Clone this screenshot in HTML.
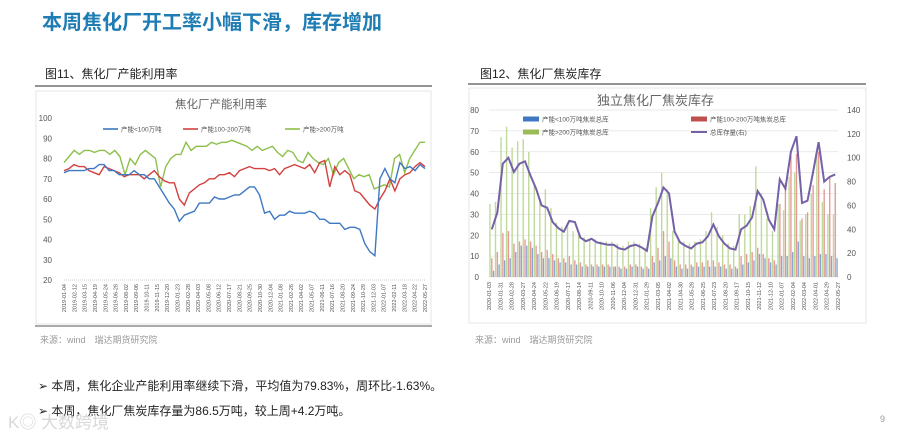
<!DOCTYPE html>
<html><head><meta charset="utf-8"><style>
body{margin:0;background:#fff;width:900px;height:437px;overflow:hidden;font-family:"Liberation Sans","Noto Sans CJK SC",sans-serif}
svg text{font-family:"Liberation Sans","Noto Sans CJK SC",sans-serif}
</style></head><body>
<svg id="s" width="900" height="437" viewBox="0 0 900 437" xmlns="http://www.w3.org/2000/svg">
<text x="42" y="29" font-size="20" font-weight="bold" fill="#1f7db4">本周焦化厂开工率小幅下滑，库存增加</text>
<!-- left panel -->
<text x="45" y="78" font-size="12" fill="#222">图11、焦化厂产能利用率</text>
<line x1="35" y1="86" x2="432" y2="86" stroke="#555" stroke-width="1.2"/>
<rect x="36" y="91" width="395" height="233" fill="#fff" stroke="#e6e6e6"/>
<line x1="35" y1="326" x2="432" y2="326" stroke="#555" stroke-width="1"/>
<text x="175" y="108" font-size="11.5" fill="#666">焦化厂产能利用率</text>
<g id="c1"></g>
<text x="40" y="343" font-size="9" fill="#999">来源：wind　瑞达期货研究院</text>
<!-- right panel -->
<text x="480" y="78" font-size="12" fill="#222">图12、焦化厂焦炭库存</text>
<line x1="468" y1="84" x2="866" y2="84" stroke="#555" stroke-width="1.2"/>
<rect x="469" y="88" width="397" height="235" fill="#fff" stroke="#e6e6e6"/>
<text x="597" y="105" font-size="13" fill="#666">独立焦化厂焦炭库存</text>
<g id="c2"></g>
<text x="475" y="343" font-size="9" fill="#999">来源：wind　瑞达期货研究院</text>
<!-- bullets -->
<text x="38" y="390" font-size="12" fill="#222">➢  本周，焦化企业产能利用率继续下滑，平均值为79.83%，周环比-1.63%。</text>
<text x="38" y="415" font-size="12" fill="#222">➢  本周，焦化厂焦炭库存量为86.5万吨，较上周+4.2万吨。</text>
<text x="8" y="428" font-size="17" fill="#d8d8d8">K◎ 大数跨境</text>
<text x="880" y="422" font-size="9" fill="#999">9</text>
</svg>
<script>
// ---- chart 1 data ----
const c1Labels=["2019-01-04","2019-02-12","2019-03-15","2019-04-19","2019-05-24","2019-06-28","2019-08-02","2019-09-06","2019-10-11","2019-11-15","2019-12-20","2020-01-23","2020-02-28","2020-04-03","2020-05-08","2020-06-12","2020-07-17","2020-08-21","2020-09-25","2020-10-30","2020-12-04","2021-01-08","2021-02-26","2021-04-02","2021-05-07","2021-06-11","2021-07-16","2021-08-20","2021-09-24","2021-10-29","2021-12-03","2022-01-07","2022-02-11","2022-03-18","2022-04-22","2022-05-27"];
const c1Ticks=[20,30,40,50,60,70,80,90,100];
const c1Blue=[73,74,74,74,74,75,75,77,77,74,74,72,72,72,74,72,72,70,70,66,62,58,55,49,52,53,54,58,58,58,61,60,60,61,62,62,64,66,66,62,53,54,50,52,52,54,53,53,53,54,53,50,50,48,48,48,45,46,46,45,38,34,32,70,75,70,68,78,75,76,74,77,75];
const c1Red=[74,75,77,76,76,74,73,72,76,75,74,73,71,72,72,72,70,72,74,71,69,68,68,60,57,63,65,67,68,70,70,72,72,73,71,74,75,76,75,75,75,74,75,72,75,76,77,76,75,77,73,78,79,66,76,72,74,72,64,63,60,57,55,60,64,70,64,70,72,73,76,78,76];
const c1Green=[78,81,84,82,84,84,83,84,84,82,84,81,72,80,77,82,84,82,80,66,76,80,82,82,88,84,86,86,86,88,87,88,88,89,88,87,86,84,86,84,85,86,83,81,84,83,79,78,83,80,78,77,80,72,78,80,75,70,72,71,72,65,66,67,66,80,82,73,80,84,88,88];
// ---- chart 2 data ----
const c2Labels=["2020-01-03","2020-01-31","2020-02-28","2020-03-27","2020-04-24","2020-05-22","2020-06-19","2020-07-17","2020-08-14","2020-09-11","2020-10-10","2020-11-06","2020-12-04","2020-12-31","2021-01-29","2021-03-05","2021-04-02","2021-04-30","2021-05-28","2021-06-25","2021-07-23","2021-08-20","2021-09-17","2021-10-15","2021-11-12","2021-12-10","2022-01-07","2022-02-04","2022-03-04","2022-04-01","2022-04-29","2022-05-27"];
const c2LeftTicks=[0,10,20,30,40,50,60,70,80];
const c2RightTicks=[0,20,40,60,80,100,120,140];
const c2Total=[40,54,95,100,88,95,97,85,74,60,58,46,41,38,47,46,33,30,32,29,28,27,27,24,23,26,27,25,22,51,62,75,70,38,29,26,24,28,29,34,44,34,28,24,23,40,43,50,72,65,48,40,82,74,105,118,62,64,88,113,80,84,86];
const c2Green=[35,36,67,72,62,65,66,60,45,37,42,33,26,24,26,22,20,19,18,18,17,17,17,16,15,17,17,16,14,33,43,50,42,22,19,17,16,17,18,22,31,24,20,16,15,30,30,34,53,40,28,22,35,32,48,50,27,30,40,60,36,30,30];
const c2Red=[9,12,21,22,16,17,18,17,15,12,13,11,9,9,10,8,7,6,6,6,6,6,5,5,5,6,6,5,5,10,14,22,17,8,6,6,6,7,7,8,8,7,6,6,5,10,11,12,14,11,9,8,35,45,58,59,28,31,44,60,42,48,45];
const c2Blue=[3,6,8,9,12,15,15,14,11,9,9,8,7,7,6,6,5,5,5,5,5,5,5,4,4,5,5,4,4,7,8,10,9,5,4,4,5,5,5,5,5,5,4,4,4,6,7,8,11,9,7,6,10,10,12,17,10,9,10,11,11,10,9];

const NS="http://www.w3.org/2000/svg";
function mk(tag,attrs,parent){const e=document.createElementNS(NS,tag);for(const k in attrs)e.setAttribute(k,attrs[k]);parent.appendChild(e);return e;}

// chart 1
(function(){
const g=document.getElementById('c1');
const X0=64,X1=425,Y0=280,Y1=118;
const y=v=>Y0-(v-20)/80*(Y0-Y1);
const xi=(i,n)=>X0+i/(n-1)*(X1-X0);
c1Ticks.forEach(t=>{
  const tl=mk('text',{x:52,y:y(t)+3,'font-size':8,fill:'#555','text-anchor':'end'},g);tl.textContent=t;
  
  
});
mk('line',{x1:X0,y1:Y0,x2:X1,y2:Y0,stroke:'#ccc','stroke-dasharray':'1,1'},g);
c1Labels.forEach((l,i)=>{
  const xx=xi(i,c1Labels.length);
  const t=mk('text',{x:0,y:0,'font-size':5.5,fill:'#555','text-anchor':'end',transform:`translate(${xx+2},${Y0+4}) rotate(-90)`},g);t.textContent=l;
  
  
});
[[c1Green,'#8dc04a','series-gt200'],[c1Red,'#d2403f','series-100-200'],[c1Blue,'#3e78c2','series-lt100']].forEach(([d,c,n])=>{
  const p=d.map((v,i)=>(i?'L':'M')+xi(i,d.length).toFixed(1)+','+y(v).toFixed(1)).join('');
  const e=mk('path',{d:p,fill:'none',stroke:c,'stroke-width':1.4},g);
  
  
});
const leg=[['产能<100万吨','#3e78c2',103],['产能100-200万吨','#d2403f',183],['产能>200万吨','#8dc04a',285]];
leg.forEach(([t,c,x])=>{
  mk('line',{x1:x,y1:129,x2:x+15,y2:129,stroke:c,'stroke-width':1.6},g);
  const tt=mk('text',{x:x+18,y:131.5,'font-size':6.5,fill:'#555'},g);tt.textContent=t;
  
  
});
})();

// chart 2
(function(){
const g=document.getElementById('c2');
const X0=489,X1=838,Y0=277,Y1=110;
const yl=v=>Y0-v/80*(Y0-Y1);
const yr=v=>Y0-v/140*(Y0-Y1);
c2LeftTicks.forEach(t=>{
  mk('line',{x1:X0,y1:yl(t),x2:X1,y2:yl(t),stroke:'#e2e2e2','stroke-width':0.7},g);
  const tl=mk('text',{x:479,y:yl(t)+3,'font-size':8,fill:'#555','text-anchor':'end'},g);tl.textContent=t;
  
  
});
c2RightTicks.forEach(t=>{
  const tl=mk('text',{x:847,y:yr(t)+3,'font-size':8,fill:'#555'},g);tl.textContent=t;
  
  
});
const n=c2Total.length;
const xi=i=>X0+(i+0.5)/n*(X1-X0);
const slot=(X1-X0)/n;
for(let i=0;i<n;i++){
  const x=xi(i);
  const b1=mk('rect',{x:x-slot*0.45,y:yl(c2Green[i]),width:slot*0.25,height:Y0-yl(c2Green[i]),fill:'#bfd99a'},g);
  
  
  const b2=mk('rect',{x:x-slot*0.12,y:yl(c2Red[i]),width:slot*0.25,height:Y0-yl(c2Red[i]),fill:'#e59a96'},g);
  
  
  const b3=mk('rect',{x:x+slot*0.2,y:yl(c2Blue[i]),width:slot*0.25,height:Y0-yl(c2Blue[i]),fill:'#8aa6cf'},g);
  
  
}
const p=c2Total.map((v,i)=>(i?'L':'M')+xi(i).toFixed(1)+','+yr(v).toFixed(1)).join('');
const ln=mk('path',{d:p,fill:'none',stroke:'#7461a8','stroke-width':2},g);


const L=c2Labels.length;
c2Labels.forEach((l,i)=>{
  const xx=X0+i/(L-1)*(X1-X0);
  const t=mk('text',{x:0,y:0,'font-size':5.5,fill:'#555','text-anchor':'end',transform:`translate(${xx+2},${Y0+5}) rotate(-90)`},g);t.textContent=l;
  
  
});
const leg=[['产能<100万吨焦炭总库','#3e78c2',523,119,'rect'],['产能100-200万吨焦炭总库','#c0504d',691,119,'rect'],['产能>200万吨焦炭总库','#9bbb59',523,132,'rect'],['总库存量(右)','#7461a8',691,132,'line']];
leg.forEach(([t,c,x,yy,k])=>{
  if(k==='rect')mk('rect',{x:x,y:yy-2.5,width:16,height:5,fill:c},g);
  else mk('line',{x1:x,y1:yy,x2:x+16,y2:yy,stroke:c,'stroke-width':2},g);
  const tt=mk('text',{x:x+19,y:yy+2.5,'font-size':6.5,fill:'#555'},g);tt.textContent=t;
  
  
});
})();
</script>
</body></html>
